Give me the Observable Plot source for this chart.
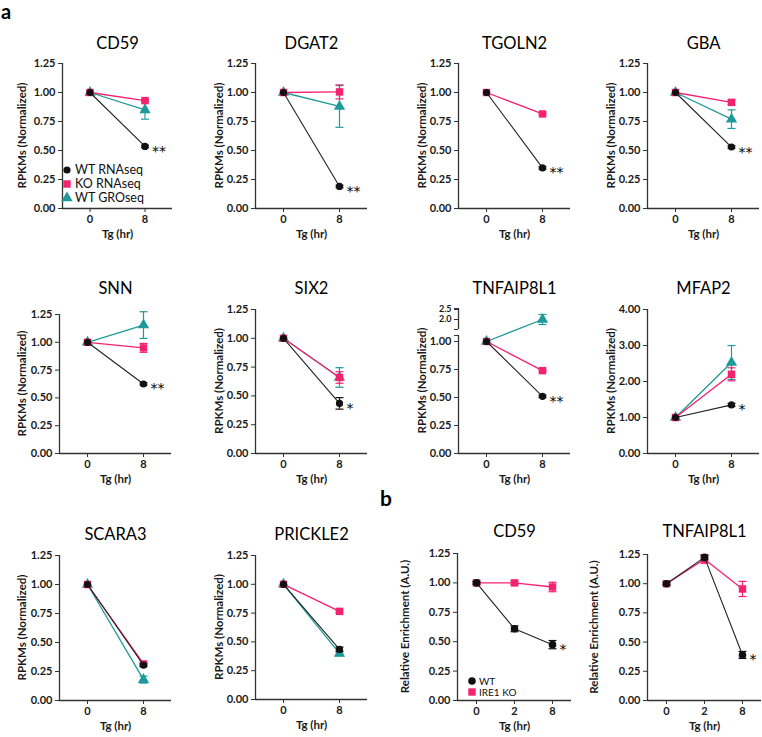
<!DOCTYPE html>
<html><head><meta charset="utf-8">
<script src="https://cdn.jsdelivr.net/npm/d3@7"></script>
<script src="https://cdn.jsdelivr.net/npm/@observablehq/plot@0.6"></script>
<style>
body{margin:0;background:#fff;}
#fig{position:relative;width:762px;height:737px;overflow:hidden;background:#fff;}
.panel{position:absolute;}
#overlay{position:absolute;left:0;top:0;pointer-events:none;}
</style></head>
<body><div id="fig"></div>
<script>
// ---------------- DATA ----------------
const genesA = ["CD59","DGAT2","TGOLN2","GBA","SNN","SIX2","TNFAIP8L1","MFAP2","SCARA3","PRICKLE2"];
const timesA = ["0","8"];
const seriesA = ["WT RNAseq","KO RNAseq","WT GROseq"];
// values at 8 hr (0 hr normalized to 1.00)
const wtRna8     = [0.535, 0.19, 0.35, 0.53, 0.625, 0.435, 0.51, 1.35, 0.305, 0.435];
const wtRnaErr8  = [0.01, 0.01, 0.01, 0.01, 0.01, 0.05, 0.01, 0.04, 0.01, 0.02];
const koRna8     = [0.93, 1.005, 0.815, 0.915, 0.95, 0.66, 0.74, 2.2, 0.315, 0.765];
const koRnaErr8  = [0.01, 0.06, 0.01, 0.02, 0.04, 0.05, 0.01, 0.18, 0.01, 0.01];
const wtGro8     = [0.85, 0.88, null, 0.77, 1.155, 0.66, 2.0, 2.53, 0.18, 0.40];
const wtGroErr8  = [0.08, 0.18, null, 0.08, 0.12, 0.085, 0.25, 0.47, 0.03, 0.02];
const sigA       = ["**","**","**","**","**","*","**","*","",""];

const genesB = ["CD59","TNFAIP8L1"];
const timesB = ["0","2","8"];
const seriesB = ["WT","IRE1 KO"];
const wtCD59B    = [1.00, 0.61, 0.475];
const wtCD59BErr = [0.01, 0.025, 0.035];
const koCD59B    = [1.00, 1.00, 0.965];
const koCD59BErr = [0.015, 0.015, 0.04];
const wtTnfB     = [1.00, 1.225, 0.39];
const wtTnfBErr  = [0.01, 0.02, 0.03];
const koTnfB     = [1.00, 1.21, 0.955];
const koTnfBErr  = [0.015, 0.035, 0.065];
const sigB       = ["*","*"];

const yTicksStd   = [0, 0.25, 0.5, 0.75, 1.0, 1.25];
const yTicksMFAP2 = [0, 1, 2, 3, 4];
const yTicksBrokenLow  = [0, 0.25, 0.5, 0.75, 1.0];
const yTicksBrokenHigh = [2.0, 2.5];

// ---------------- LAYOUT / STYLE ----------------
const PINK = "#f5226f", TEAL = "#1f9a9a", BLACK = "#111", AXIS = "#333";
const FONT = "Lato, 'Open Sans', sans-serif";
const ML = 64, MR = 24, MT = 40, MB = 40;
const boxesA = [
  {L:62, R:172, T:63, B:208, titleY:37, lab:40},
  {L:255,R:367, T:63, B:208, titleY:37, lab:36},
  {L:458,R:570, T:63, B:208, titleY:37, lab:36},
  {L:647,R:759, T:63, B:208, titleY:37, lab:36},
  {L:59, R:171, T:314,B:453, titleY:282, lab:37},
  {L:255,R:367, T:309,B:453, titleY:282, lab:36},
  {L:458,R:570, T:308,B:453, titleY:282, lab:36},
  {L:647,R:759, T:309,B:453, titleY:282, lab:36},
  {L:59, R:171, T:555,B:700, titleY:528, lab:37},
  {L:255,R:367, T:555,B:699, titleY:528, lab:36}
];
const boxesB = [
  {L:457,R:571, T:553,B:700, titleY:525, lab:52},
  {L:647,R:761, T:554,B:700, titleY:525, lab:53}
];
const style = {
  "WT RNAseq": {color: BLACK, symbol: "circle", r: 3.6, lw: 1.1, line: "#222"},
  "KO RNAseq": {color: PINK, symbol: "square", r: 4.2, lw: 1.3, line: PINK},
  "WT GROseq": {color: TEAL, symbol: "triangle", r: 4.2, lw: 1.3, line: TEAL},
  "WT":        {color: BLACK, symbol: "circle", r: 3.8, lw: 1.1, line: "#222"},
  "IRE1 KO":   {color: PINK, symbol: "square", r: 4.2, lw: 1.3, line: PINK}
};
const cap = {draw(ctx){ ctx.moveTo(-4, 0); ctx.lineTo(4, 0); }};

// broken axis mapping for TNFAIP8L1 (panel a)
const brk = {lowMax: 1.054, upMin: 1.5, upMax: 2.55, upBase: 1.107, upScale: 20/112};
const brkMap = v => v <= brk.lowMax ? v : brk.upBase + (v - brk.upMin) * brk.upScale;

const fig = document.getElementById("fig");
const yLabels = [];
const axisText = {tickSize: 4, tickPadding: 3, label: null, stroke: AXIS, fontWeight: "bold", fill: "#1a1a1a"};

function drawPanel({title, rows, times, order, yDomain, ticks, fmt, extraAxis, yLabel, box, ymap = v => v, segments, stars}) {
  const n = times.length;
  const xDom = [-0.5, n - 0.5];
  const W = ML + (box.R - box.L) + MR, H = MT + (box.B - box.T) + MB;
  const marks = [];
  marks.push(Plot.ruleY([yDomain[0]], {stroke: AXIS, strokeWidth: 1.3}));
  if (segments) for (const [a, b] of segments) marks.push(Plot.ruleX([xDom[0]], {y1: a, y2: b, stroke: AXIS, strokeWidth: 1.3}));
  else marks.push(Plot.ruleX([xDom[0]], {stroke: AXIS, strokeWidth: 1.3}));
  marks.push(Plot.axisX({...axisText, ticks: d3.range(n), tickFormat: i => times[i], fontSize: 11}));
  marks.push(Plot.axisY({...axisText, ticks, tickFormat: fmt, fontSize: 11}));
  if (extraAxis) marks.push(Plot.axisY({...axisText, ...extraAxis}));
  for (const s of order) {
    const st = style[s];
    const sr = rows.filter(d => d.series === s);
    if (!sr.length) continue;
    const er = sr.filter(d => d.e > 0);
    marks.push(Plot.line(sr, {x: "t", y: d => ymap(d.v), stroke: st.line, strokeWidth: st.lw}));
    marks.push(Plot.ruleX(er, {x: "t", y1: d => ymap(d.v - d.e), y2: d => ymap(d.v + d.e), stroke: st.color, strokeWidth: 1.2}));
    marks.push(Plot.dot(er, {x: "t", y: d => ymap(d.v + d.e), symbol: cap, r: 4, stroke: st.color, strokeWidth: 1.2}));
    marks.push(Plot.dot(er, {x: "t", y: d => ymap(d.v - d.e), symbol: cap, r: 4, stroke: st.color, strokeWidth: 1.2}));
    marks.push(Plot.dot(sr, {x: "t", y: d => ymap(d.v), symbol: st.symbol, r: st.r, fill: st.color, stroke: "none"}));
  }
  marks.push(Plot.text(stars, {x: "t", y: d => ymap(d.v), text: "sig", textAnchor: "start", dx: 7, dy: 5, fontSize: 14, fontFamily: "DejaVu Sans", fontWeight: "normal", fill: "#000"}));
  marks.push(Plot.text([title], {text: d => d, frameAnchor: "top", dy: -(box.T - box.titleY), fontSize: 16.5, fontWeight: "normal", fill: "#000"}));
  marks.push(Plot.text(["Tg (hr)"], {text: d => d, frameAnchor: "bottom", dy: 29, fontSize: 11.5, fill: "#1a1a1a"}));
  const svg = Plot.plot({
    width: W, height: H,
    marginLeft: ML, marginRight: MR, marginTop: MT, marginBottom: MB,
    x: {type: "linear", domain: xDom},
    y: {type: "linear", domain: yDomain},
    style: {fontFamily: FONT, fontSize: "11px", fontWeight: "bold", overflow: "visible", background: "transparent", color: "#222"},
    marks
  });
  const wrap = document.createElement("div");
  wrap.className = "panel";
  wrap.style.left = (box.L - ML) + "px";
  wrap.style.top = (box.T - MT) + "px";
  wrap.style.width = W + "px";
  wrap.style.height = H + "px";
  wrap.appendChild(svg);
  fig.appendChild(wrap);
  yLabels.push({text: yLabel, x: box.L - box.lab, y: (box.T + box.B) / 2});
}

const fmt2 = d => d.toFixed(2);

// Panel a
genesA.forEach((g, i) => {
  const rows = [];
  const add = (s, v8, e8) => { if (v8 == null) return; rows.push({series: s, t: 0, v: 1, e: 0}, {series: s, t: 1, v: v8, e: e8}); };
  add(seriesA[0], wtRna8[i], wtRnaErr8[i]);
  add(seriesA[1], koRna8[i], koRnaErr8[i]);
  add(seriesA[2], wtGro8[i], wtGroErr8[i]);
  const stars = sigA[i] ? [{t: 1, v: wtRna8[i], sig: sigA[i]}] : [];
  let opts = {title: g, rows, times: timesA, order: [seriesA[2], seriesA[1], seriesA[0]],
    yDomain: [0, 1.25], ticks: yTicksStd, fmt: fmt2, yLabel: "RPKMs (Normalized)", box: boxesA[i], stars};
  if (g === "MFAP2") { opts.yDomain = [0, 4]; opts.ticks = yTicksMFAP2; }
  if (g === "TNFAIP8L1") {
    const hi = yTicksBrokenHigh.map(brkMap);
    opts.ymap = brkMap;
    opts.yDomain = [0, brkMap(brk.upMax)];
    opts.ticks = [...yTicksBrokenLow, brk.lowMax, brkMap(brk.upMin), brkMap(brk.upMax)];
    opts.fmt = d => yTicksBrokenLow.includes(d) ? d.toFixed(2) : "";
    opts.extraAxis = {ticks: hi, tickFormat: d => yTicksBrokenHigh[hi.indexOf(d)].toFixed(1), fontSize: 9};
    opts.segments = [[0, brk.lowMax], [brkMap(brk.upMin), brkMap(brk.upMax)]];
  }
  drawPanel(opts);
});

// Panel b
const bVals = [[wtCD59B, wtCD59BErr, koCD59B, koCD59BErr], [wtTnfB, wtTnfBErr, koTnfB, koTnfBErr]];
genesB.forEach((g, i) => {
  const [wv, we, kv, ke] = bVals[i];
  const rows = [];
  timesB.forEach((t, j) => {
    rows.push({series: seriesB[0], t: j, v: wv[j], e: we[j]});
    rows.push({series: seriesB[1], t: j, v: kv[j], e: ke[j]});
  });
  const stars = [{t: timesB.length - 1, v: wv[timesB.length - 1], sig: sigB[i]}];
  drawPanel({title: g, rows, times: timesB, order: [seriesB[1], seriesB[0]],
    yDomain: [0, 1.25], ticks: yTicksStd, fmt: fmt2, yLabel: "Relative Enrichment (A.U.)", box: boxesB[i], stars});
});

// Overlay: panel letters, y-axis titles and legends
const ov = d3.select(fig).append("svg").attr("id", "overlay").attr("width", 762).attr("height", 737)
  .style("font-family", FONT);
ov.append("text").attr("x", 1).attr("y", 19).attr("font-size", 20).attr("font-weight", "bold").text("a");
ov.append("text").attr("x", 380).attr("y", 506).attr("font-size", 21).attr("font-weight", "bold").text("b");
yLabels.forEach(l => {
  ov.append("text").attr("transform", `translate(${l.x},${l.y}) rotate(-90)`)
    .attr("text-anchor", "middle").attr("dy", "0.35em").attr("font-size", 11.5).attr("font-weight", "bold")
    .attr("fill", "#1a1a1a").text(l.text);
});
const symType = {circle: d3.symbolCircle, square: d3.symbolSquare, triangle: d3.symbolTriangle};
function legend(items, x, y0, step, fs, tx) {
  items.forEach((s, i) => {
    const st = style[s];
    const y = y0 + i * step;
    ov.append("path").attr("transform", `translate(${x},${y})`)
      .attr("d", d3.symbol().type(symType[st.symbol]).size(Math.PI * st.r * st.r)()).attr("fill", st.color);
    ov.append("text").attr("x", tx).attr("y", y).attr("dy", "0.35em").attr("font-size", fs).attr("fill", "#111").text(s);
  });
}
legend(seriesA, 67, 170, 14, 12.5, 75);
legend(seriesB, 472, 681, 11, 10, 479);
</script>
</body></html>
